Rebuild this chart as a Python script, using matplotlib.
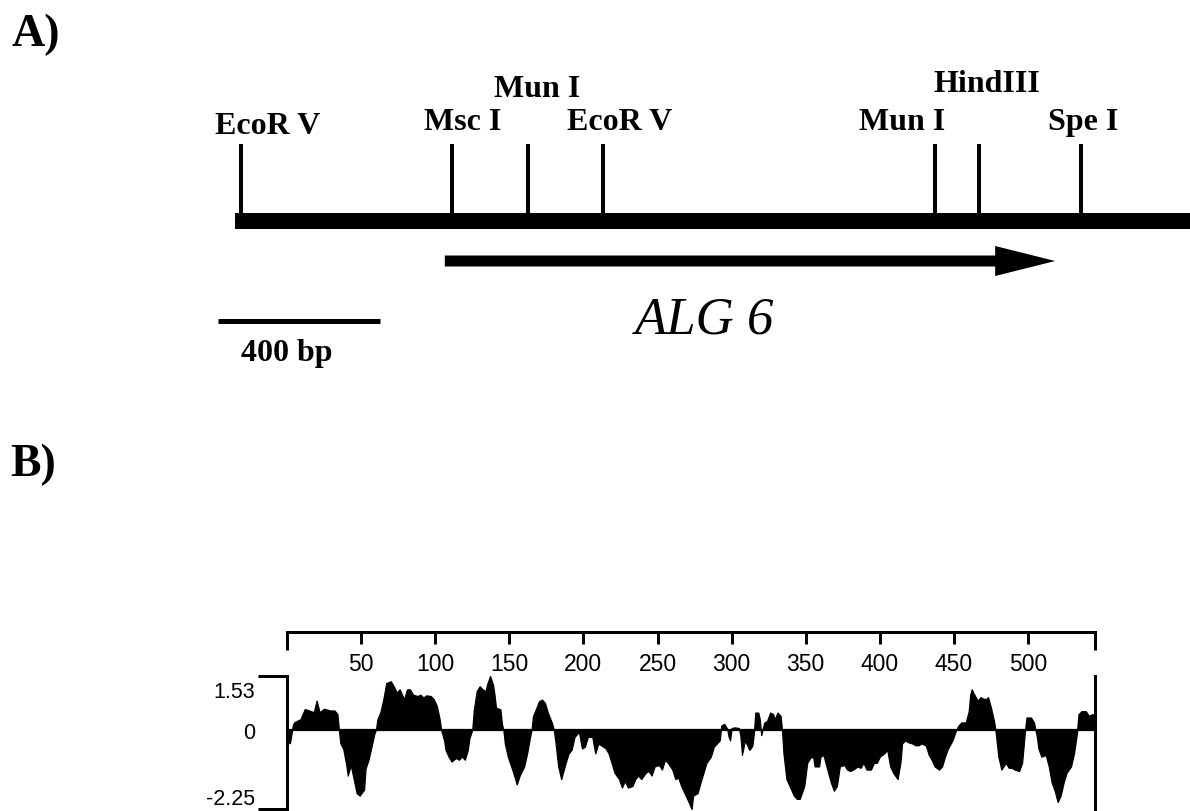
import matplotlib
matplotlib.use("Agg")
import matplotlib.pyplot as plt
from matplotlib.patches import FancyArrow
from matplotlib.transforms import ScaledTranslation

plt.rcParams["font.family"] = ["Liberation Sans", "DejaVu Sans"]

W, H = 1190, 812
PX = 72 / 100  # points per pixel at dpi 100

# ---------------- Panel A data (restriction map, bp) ----------------
site_names = ["EcoR V", "Msc I", "Mun I", "EcoR V", "Mun I", "HindIII", "Spe I"]
site_bp = [0, 521, 710, 894, 1714, 1824, 2075]
orf_start_bp = 504
orf_end_bp = 2011
map_start_bp = -14
scale_bar_bp = 400
gene_name = "ALG 6"

# ---------------- Panel B data (hydropathy profile) ----------------
n_residues = 545
x_ticks = [50, 100, 150, 200, 250, 300, 350, 400, 450, 500]
y_ticks = [1.53, 0, -2.25]
y_ticklabels = ["1.53", "0", "-2.25"]

residue = [
    0, 1, 2, 4, 5, 9, 12, 15, 18, 20,
    22, 25, 29, 32, 34, 35, 36, 38, 40, 41,
    43, 45, 47, 49, 52, 53, 55, 57, 59, 60,
    61, 63, 65, 67, 70, 72, 74, 76, 79, 81,
    83, 85, 88, 90, 92, 94, 97, 99, 101, 102,
    103, 104, 106, 107, 109, 111, 114, 116, 118, 120,
    122, 123, 125, 126, 128, 130, 132, 134, 135, 137,
    139, 140, 141, 144, 145, 146, 147, 149, 152, 154,
    155, 157, 160, 162, 164, 165, 166, 167, 170, 172,
    174, 176, 179, 180, 181, 183, 185, 188, 190, 192,
    194, 197, 199, 201, 203, 206, 208, 210, 212, 215,
    217, 219, 221, 224, 226, 228, 230, 233, 235, 237,
    239, 242, 244, 246, 248, 251, 253, 255, 257, 260,
    262, 264, 266, 269, 271, 273, 274, 277, 279, 281,
    283, 286, 288, 290, 292, 293, 295, 297, 298, 299,
    300, 302, 305, 306, 307, 309, 310, 312, 314, 315,
    316, 318, 319, 320, 322, 324, 326, 328, 329, 331,
    333, 334, 335, 337, 340, 342, 344, 346, 349, 351,
    353, 355, 356, 359, 360, 362, 364, 367, 369, 371,
    373, 376, 378, 380, 382, 385, 387, 389, 391, 394,
    396, 398, 400, 403, 405, 407, 409, 412, 414, 415,
    417, 419, 422, 424, 426, 428, 431, 432, 433, 435,
    437, 440, 442, 444, 446, 449, 451, 453, 455, 458,
    460, 461, 462, 463, 466, 468, 470, 472, 473, 475,
    477, 478, 479, 480, 482, 485, 487, 489, 491, 494,
    496, 497, 498, 499, 502, 504, 505, 506, 507, 509,
    512, 514, 516, 518, 520, 522, 524, 526, 529, 531,
    533, 534, 536, 539, 541, 543, 545,
]

hydropathy = [
    0.0, -0.35, -0.38, 0.15, 0.22, 0.30, 0.59, 0.55, 0.50, 0.83,
    0.50, 0.60, 0.55, 0.55, 0.45, 0.0, -0.38, -0.55, -1.0, -1.3,
    -1.0, -1.4, -1.8, -1.87, -1.7, -1.1, -0.85, -0.48, -0.1, 0.0,
    0.3, 0.5, 0.87, 1.33, 1.38, 1.24, 1.06, 1.15, 0.87, 1.15,
    1.15, 1.0, 0.96, 1.0, 0.92, 0.98, 0.96, 0.87, 0.69, 0.5,
    0.3, 0.0, -0.3, -0.57, -0.76, -0.9, -0.8, -0.85, -0.76, -0.85,
    -0.57, -0.25, 0.0, 0.55, 1.1, 1.24, 1.15, 1.1, 1.29, 1.53,
    1.29, 1.0, 0.63, 0.58, 0.17, 0.0, -0.39, -0.76, -1.13, -1.4,
    -1.55, -1.3, -1.04, -0.67, -0.2, 0.0, 0.4, 0.49, 0.81, 0.86,
    0.77, 0.49, 0.17, 0.0, -0.3, -1.04, -1.4, -0.94, -0.67, -0.57,
    -0.2, -0.06, -0.53, -0.48, -0.2, -0.2, -0.67, -0.39, -0.44, -0.53,
    -0.67, -0.94, -1.22, -1.4, -1.64, -1.45, -1.64, -1.6, -1.4, -1.3,
    -1.4, -1.22, -1.17, -1.3, -1.04, -1.0, -1.13, -0.85, -0.94, -1.13,
    -1.4, -1.36, -1.6, -1.87, -2.05, -2.25, -1.87, -1.8, -1.5, -1.22,
    -0.94, -0.76, -0.48, -0.39, -0.3, 0.12, 0.17, 0.03, -0.2, -0.3,
    0.05, 0.07, 0.05, -0.2, -0.71, -0.3, -0.39, -0.57, -0.45, -0.1,
    0.49, 0.49, 0.3, -0.15, 0.2, 0.26, 0.49, 0.45, 0.3, 0.49,
    0.4, 0.0, -0.67, -1.4, -1.68, -1.87, -1.96, -1.96, -1.6, -0.94,
    -0.8, -0.76, -1.04, -1.04, -0.76, -0.72, -1.04, -1.5, -1.73, -1.6,
    -1.04, -1.0, -1.13, -1.17, -1.13, -1.04, -1.08, -0.94, -1.13, -1.13,
    -0.94, -0.94, -0.76, -0.67, -0.57, -1.04, -1.22, -1.4, -0.9, -0.39,
    -0.3, -0.35, -0.39, -0.44, -0.44, -0.39, -0.44, -0.57, -0.71, -0.85,
    -1.04, -1.13, -1.04, -0.76, -0.53, -0.3, -0.06, 0.12, 0.21, 0.21,
    0.53, 1.0, 1.15, 1.06, 0.83, 0.93, 0.88, 0.88, 0.93, 0.63,
    0.26, 0.0, -0.39, -0.76, -1.13, -0.94, -1.08, -1.08, -1.13, -1.17,
    -0.94, -0.48, 0.0, 0.35, 0.35, 0.21, 0.0, -0.2, -0.53, -0.76,
    -0.72, -1.04, -1.5, -1.73, -2.05, -1.87, -1.5, -1.22, -1.04, -0.67,
    -0.1, 0.44, 0.53, 0.53, 0.4, 0.44, 0.44,
]
assert len(residue) == len(hydropathy)

fig = plt.figure(figsize=(W / 100, H / 100), dpi=100)

# ---------------- Panel A ----------------
px_per_bp = 0.405
bpp = 1 / px_per_bp
x0_px = 240.7
axA = fig.add_axes([0, 0, 1, 1])
axA.set_xlim(-x0_px * bpp, (W - x0_px) * bpp)
axA.set_ylim(H, 0)
axA.axis("off")

serif = ["Liberation Serif", "DejaVu Serif"]

# main DNA line
axA.hlines(222, map_start_bp, (W - x0_px) * bpp + 200, color="k",
           lw=16 * PX, capstyle="butt")
# restriction sites
axA.vlines(site_bp, 145, 216, color="k", lw=4 * PX)
label_dx_px = [27, 11, 9, 17, -33, 8, 2]
label_base_px = [134, 130, 97, 130, 130, 92, 130]
for name, bp, dx, yb in zip(site_names, site_bp, label_dx_px, label_base_px):
    axA.text(bp + dx * bpp, yb, name, ha="center", va="baseline",
             fontsize=23, fontweight="bold", family=serif)

# ORF arrow
axA.add_patch(FancyArrow(orf_start_bp, 262, orf_end_bp - orf_start_bp, 0,
                         width=11, head_width=30, head_length=60 * bpp,
                         length_includes_head=True, color="k", lw=0))
axA.text((705 - x0_px) * bpp, 334, gene_name, ha="center", va="baseline",
         fontsize=38, style="italic", family=serif)

# scale bar
bar_start = (218 - x0_px) * bpp
axA.hlines(322, bar_start, bar_start + scale_bar_bp, color="k", lw=5 * PX,
           capstyle="butt")
axA.text((287 - x0_px) * bpp, 361, f"{scale_bar_bp} bp", ha="center",
         va="baseline", fontsize=23, fontweight="bold", family=serif)

fig.text(12 / W, 1 - 46 / H, "A)", fontsize=33, fontweight="bold",
         family=serif, ha="left", va="baseline")
fig.text(10 / W, 1 - 476 / H, "B)", fontsize=33, fontweight="bold",
         family=serif, ha="left", va="baseline")

# ---------------- Panel B ----------------
top_px, y153_px, ybot_px = 632.7, 677.0, 810.0
left_px, right_px = 287.0, 1094.7
scale = (ybot_px - y153_px) / (y_ticks[0] - y_ticks[2])
ytop = y_ticks[0] + (y153_px - top_px) / scale
stub_bot = y_ticks[0] + (y153_px - 651) / scale

axB = fig.add_axes([left_px / W, 1 - ybot_px / H, (right_px - left_px) / W,
                    (ybot_px - top_px) / H])
axB.patch.set_alpha(0)
axB.set_xlim(0, n_residues)
axB.set_ylim(y_ticks[2], ytop)

axB.fill_between(residue, hydropathy, 0, color="k", lw=0.9)
axB.axhline(0, color="k", lw=1.6)

spw = 3 * PX
axB.spines["bottom"].set_visible(False)
for s in ("left", "right", "top"):
    axB.spines[s].set_linewidth(spw)
axB.spines["left"].set_bounds(y_ticks[2], y_ticks[0])
axB.spines["right"].set_bounds(y_ticks[2], y_ticks[0])
for xs in (0, n_residues):
    axB.plot([xs, xs], [stub_bot, ytop], color="k", lw=spw,
             solid_capstyle="butt", clip_on=False)

axB.xaxis.tick_top()
axB.set_xticks(x_ticks)
axB.set_xticklabels([str(t) for t in x_ticks])
axB.tick_params(axis="x", direction="in", length=12 * PX, width=spw,
                pad=-14.6, labelsize=16.5)
for t in axB.xaxis.get_major_ticks():
    t.label2.set_va("top")

axB.yaxis.set_ticks_position("left")
axB.set_yticks(y_ticks)
axB.set_yticklabels(y_ticklabels)
axB.tick_params(axis="y", direction="out", length=29 * PX, width=spw,
                pad=2.2, labelsize=15.5)
yt = axB.yaxis.get_major_ticks()
yt[1].tick1line.set_visible(False)
yt[0].label1.set_va("top")
yt[0].label1.set_transform(yt[0].label1.get_transform()
                           + ScaledTranslation(0, -5 / 100, fig.dpi_scale_trans))
yt[2].label1.set_va("bottom")

fig.savefig("out.png", dpi=100)
